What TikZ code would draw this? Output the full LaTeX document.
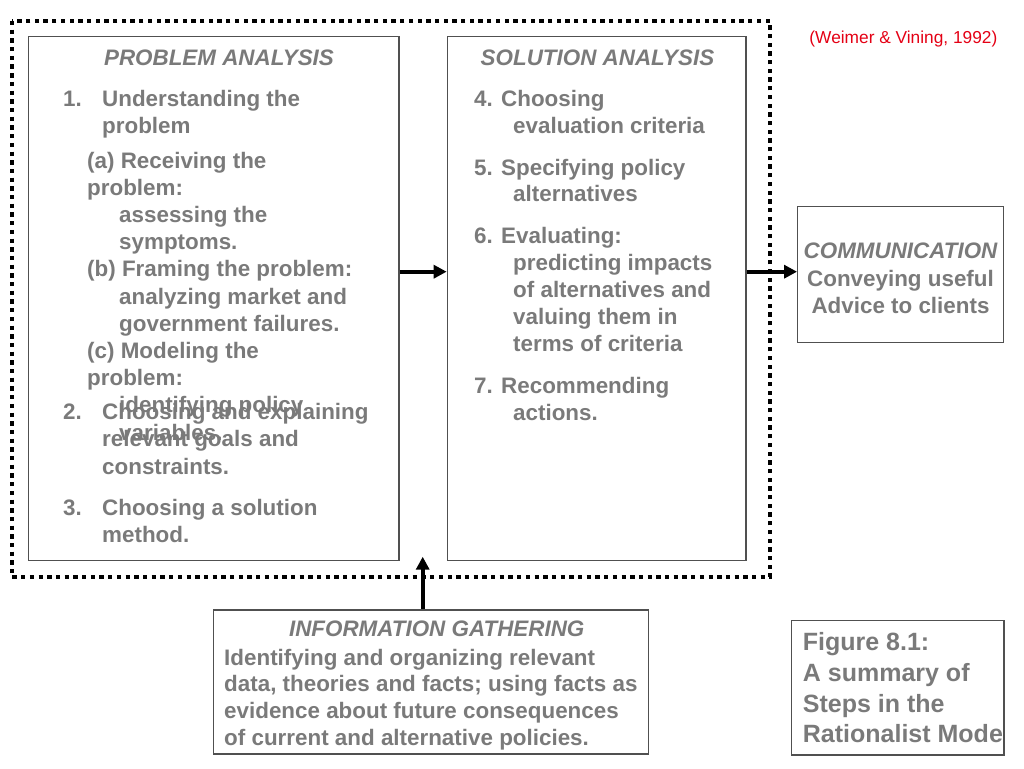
\documentclass[tikz,border=0pt]{standalone}
\usepackage{fontspec}
\setmainfont{Liberation Sans}
\usetikzlibrary{arrows.meta}
\usetikzlibrary{calc}
\definecolor{txtgray}{RGB}{122,122,122}
\definecolor{boxgray}{RGB}{80,80,80}
\definecolor{citered}{RGB}{228,0,20}
\tikzset{
  box/.style={draw=boxgray,line width=1.3pt,inner sep=0pt,rectangle},
  txt/.style={text=txtgray,font=\bfseries\fontsize{22.4}{26}\selectfont,inner sep=0pt,anchor=base west},
  ctxt/.style={txt,anchor=base},
  ttl/.style={ctxt,font=\bfseries\itshape\fontsize{22.4}{26}\selectfont},
  dotframe/.style={line width=4pt,dash pattern=on 4.3pt off 4.4pt},
  flow/.style={->,line width=4pt}
}
\begin{document}
\begin{tikzpicture}[x=1pt,y=-1pt,>={Triangle[length=13pt,width=13pt]}]
\useasboundingbox (0,0) rectangle (1024,768);
% outer dotted frame
\draw [dotframe] (11.7,21) rectangle (770,577);
% boxes
\node [box,minimum width=370.7pt,minimum height=524pt] (pa) at (213.65,298.7) {};
\node [box,minimum width=298.7pt,minimum height=524pt] (sa) at (596.65,298.7) {};
\node [box,minimum width=205.6pt,minimum height=136pt] (cm) at (900.5,274.7) {};
\node [box,minimum width=435pt,minimum height=144pt] (ig) at (430.8,682) {};
\node [box,minimum width=212.3pt,minimum height=134.3pt] (fg) at (897.85,687.85) {};
% problem analysis
\node [ttl] (patitle) at (219,65) {PROBLEM ANALYSIS};
\foreach \x/\y/\t [count=\i] in {63/106/{1.},102/106/{Understanding the},102/133/{problem},
  87/168/{(a) Receiving the},87/195.2/{problem:},119/222.4/{assessing the},119/249.6/{symptoms.},
  87/276.8/{(b) Framing the problem:},119/304/{analyzing market and},119/331.2/{government failures.},
  87/358.4/{(c) Modeling the},87/385.6/{problem:},119/412.8/{identifying policy},119/440/{variables.},
  63/419.3/{2.},102/419.3/{Choosing and explaining},102/446.7/{relevant goals and},102/474.5/{constraints.},
  63/515/{3.},102/515/{Choosing a solution},102/542/{method.}}
  \node [txt] (pl\i) at (\x,\y) {\t};
% solution analysis
\node [ttl] (satitle) at (597.5,65) {SOLUTION ANALYSIS};
\foreach \x/\y/\t [count=\i] in {474/106/{4. Choosing},513/133/{evaluation criteria},
  474/175/{5. Specifying policy},513/201.5/{alternatives},
  474/243/{6. Evaluating:},513/270/{predicting impacts},513/297/{of alternatives and},
  513/324/{valuing them in},513/351/{terms of criteria},
  474/393/{7. Recommending},513/420/{actions.}}
  \node [txt] (sl\i) at (\x,\y) {\t};
% communication
\node [ttl] (cmtitle) at (900.5,258.3) {COMMUNICATION};
\node [ctxt] (cm1) at (900.5,286.7) {Conveying useful};
\node [ctxt] (cm2) at (900.5,313.3) {Advice to clients};
% information gathering
\node [ttl] (igtitle) at (436.7,636.7) {INFORMATION GATHERING};
\foreach \y/\t [count=\i] in {665/{Identifying and organizing relevant},
  691.7/{data, theories and facts; using facts as},
  718.3/{evidence about future consequences},
  745/{of current and alternative policies.}}
  \node [txt] (il\i) at (224,\y) {\t};
% figure caption
\foreach \y/\t [count=\i] in {650/{Figure 8.1:},681.5/{A summary of},712/{Steps in the},742.5/{Rationalist Mode}}
  \node [txt,font=\bfseries\fontsize{25}{30}\selectfont] (fl\i) at (802.7,\y) {\t};
% citation
\node [inner sep=0pt,anchor=base east,text=citered,font=\fontsize{17.3}{20}\selectfont] (cite) at (997.5,43.3) {(Weimer \& Vining, 1992)};
% connectors
\coordinate (gap) at (422.7,556.7);
\draw [flow] ([yshift=27pt]pa.east) -- ([yshift=27pt]sa.west);
\draw [flow] ([yshift=27pt]sa.east) -- ([yshift=3pt]cm.west);
\draw [flow] (ig.north -| gap) -- (gap);
\end{tikzpicture}
\end{document}
